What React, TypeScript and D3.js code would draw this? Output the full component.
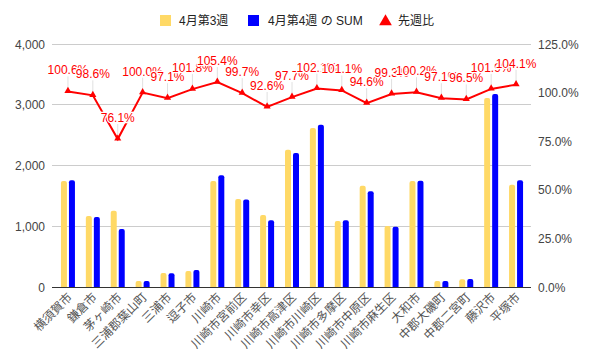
import React, { useEffect, useRef } from 'react';
import * as d3 from 'd3';

const categories = [
	'横須賀市', '鎌倉市', '茅ヶ崎市', '三浦郡葉山町', '三浦市', '逗子市', '川崎市',
	'川崎市宮前区', '川崎市幸区', '川崎市高津区', '川崎市川崎区', '川崎市多摩区',
	'川崎市中原区', '川崎市麻生区', '大和市', '中郡大磯町', '中郡二宮町', '藤沢市', '平塚市'
];
const week3 = [1745, 1169, 1256, 98, 232, 263, 1745, 1449, 1185, 2258, 2617, 1088, 1665, 1004, 1745, 100, 128, 3110, 1682];
const week4 = [1757, 1152, 955, 98, 225, 278, 1841, 1440, 1100, 2206, 2670, 1100, 1578, 990, 1748, 99, 133, 3175, 1758];
const ratio = [100.6, 98.6, 76.1, 100.0, 97.1, 101.8, 105.4, 99.7, 92.6, 97.7, 102.1, 101.1, 94.6, 99.3, 100.2, 97.1, 96.5, 101.9, 104.1];
const leftTicks = [0, 1000, 2000, 3000, 4000];
const rightTicks = [0, 25, 50, 75, 100, 125];

const W = 595;
const H = 361;
const FONT = 'Arial, "Liberation Sans", "Noto Sans CJK JP", sans-serif';

// rounded top corners only
function barPath(x: number, y: number, w: number, h: number, r: number) {
	const rr = Math.min(r, h, w / 2);
	return `M${x},${y + h}V${y + rr}Q${x},${y} ${x + rr},${y}H${x + w - rr}Q${x + w},${y} ${x + w},${y + rr}V${y + h}Z`;
}

function Chart() {
	const ref = useRef<SVGSVGElement>(null);

	useEffect(() => {
		const svg = d3.select(ref.current);
		svg.selectAll('*').remove();

		const top = 44, bottom = 287, left = 52, right = 531;

		const x = d3.scaleBand<string>().domain(categories).range([55.5, 528.5]);
		const y = d3.scaleLinear().domain([0, 4000]).range([bottom, top]);
		const y2 = d3.scaleLinear().domain([0, 125]).range([bottom, top]);

		// gridlines
		svg.append('g')
			.selectAll('line')
			.data(leftTicks.filter(d => d > 0))
			.enter()
			.append('line')
			.attr('x1', left)
			.attr('x2', right)
			.attr('y1', d => y(d))
			.attr('y2', d => y(d))
			.attr('stroke', '#cccccc')
			.attr('stroke-width', 1)
			.attr('shape-rendering', 'crispEdges');

		// left ticks
		svg.append('g')
			.selectAll('text')
			.data(leftTicks)
			.enter()
			.append('text')
			.text(d => d3.format(',')(d))
			.attr('x', 45)
			.attr('y', d => y(d) + 4.5)
			.attr('text-anchor', 'end')
			.attr('font-family', FONT)
			.attr('font-size', '12px')
			.attr('fill', '#444');

		// right ticks
		svg.append('g')
			.selectAll('text')
			.data(rightTicks)
			.enter()
			.append('text')
			.text(d => d.toFixed(1) + '%')
			.attr('x', 538)
			.attr('y', d => y2(d) + 4.5)
			.attr('font-family', FONT)
			.attr('font-size', '12px')
			.attr('fill', '#444');

		const bw = 6;
		const c = (i: number) => (x(categories[i]) as number) + x.bandwidth() / 2;

		svg.append('g')
			.selectAll('path')
			.data(week3)
			.enter()
			.append('path')
			.attr('d', (d, i) => barPath(c(i) - 7, y(d), bw, bottom - y(d), 2))
			.attr('fill', '#ffd966');

		svg.append('g')
			.selectAll('path')
			.data(week4)
			.enter()
			.append('path')
			.attr('d', (d, i) => barPath(c(i) + 1, y(d), bw, bottom - y(d), 2))
			.attr('fill', '#0000ff');

		// baseline
		svg.append('line')
			.attr('x1', left)
			.attr('x2', right)
			.attr('y1', bottom + 0.5)
			.attr('y2', bottom + 0.5)
			.attr('stroke', '#333');

		// x labels
		svg.append('g')
			.selectAll('text')
			.data(categories)
			.enter()
			.append('text')
			.text(d => d)
			.attr('transform', (d, i) => `translate(${c(i) + 5},${bottom + 11}) rotate(-45)`)
			.attr('text-anchor', 'end')
			.attr('font-family', FONT)
			.attr('font-size', '12px')
			.attr('fill', '#555');

		// leader lines
		svg.append('g')
			.selectAll('line')
			.data(ratio)
			.enter()
			.append('line')
			.attr('x1', (d, i) => c(i))
			.attr('x2', (d, i) => c(i))
			.attr('y1', d => y2(d))
			.attr('y2', d => y2(d) - 15)
			.attr('stroke', '#e0e0e0')
			.attr('stroke-width', 1);

		// ratio line
		const line = d3.line<number>()
			.x((d, i) => c(i))
			.y(d => y2(d));
		svg.append('path')
			.datum(ratio)
			.attr('d', line)
			.attr('fill', 'none')
			.attr('stroke', '#ff0000')
			.attr('stroke-width', 2);

		svg.append('g')
			.selectAll('path')
			.data(ratio)
			.enter()
			.append('path')
			.attr('d', d3.symbol().type(d3.symbolTriangle).size(22))
			.attr('transform', (d, i) => `translate(${c(i)},${y2(d) - 0.5})`)
			.attr('fill', '#ff0000');

		// annotations
		svg.append('g')
			.selectAll('text')
			.data(ratio)
			.enter()
			.append('text')
			.text(d => d.toFixed(1) + '%')
			.attr('x', (d, i) => c(i))
			.attr('y', d => y2(d) - 17)
			.attr('text-anchor', 'middle')
			.attr('font-family', FONT)
			.attr('font-size', '12px')
			.attr('fill', '#ff0000')
			.attr('stroke', '#ffffff')
			.attr('stroke-width', 2.5)
			.attr('paint-order', 'stroke');

		// legend
		const lg = svg.append('g').attr('font-family', FONT).attr('font-size', '12px').attr('fill', '#222');
		lg.append('rect').attr('x', 160).attr('y', 15).attr('width', 11).attr('height', 11).attr('fill', '#ffd966');
		lg.append('text').attr('x', 179).attr('y', 25).text('4月第3週');
		lg.append('rect').attr('x', 248).attr('y', 15).attr('width', 11).attr('height', 11).attr('fill', '#0000ff');
		lg.append('text').attr('x', 268).attr('y', 25).text('4月第4週 の SUM');
		lg.append('path')
			.attr('d', d3.symbol().type(d3.symbolTriangle).size(70))
			.attr('transform', 'translate(385.5,21.5)')
			.attr('fill', '#ff0000');
		lg.append('text').attr('x', 398).attr('y', 25).text('先週比');
	}, []);

	return <svg ref={ref} width={W} height={H} style={{ position: 'absolute', left: 0, top: 0, background: '#fff' }} />;
}

export default function App() {
	return <Chart />;
}
